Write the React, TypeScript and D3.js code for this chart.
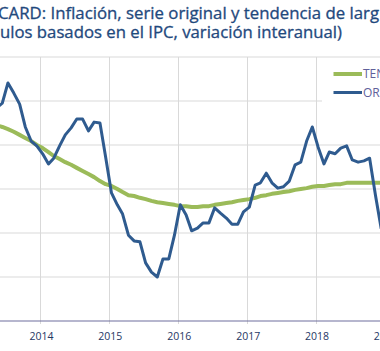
import * as d3 from 'd3'

// monthly, May 2013 .. Dec 2018 (mid-month points)
const firstMonth = new Date(2013, 4, 15)

const original = [
  4.84, 4.95, 5.41, 5.18, 4.93, 4.41, 4.09, 3.98,
  3.80, 3.57, 3.70, 3.98, 4.23, 4.39, 4.59, 4.59, 4.32, 4.52, 4.50, 3.73,
  2.91, 2.64, 2.43, 1.95, 1.82, 1.80, 1.32, 1.11, 1.00, 1.41, 1.41, 1.95,
  2.64, 2.41, 2.05, 2.11, 2.23, 2.23, 2.57, 2.45, 2.34, 2.20, 2.20, 2.48,
  2.59, 3.09, 3.14, 3.36, 3.14, 3.02, 3.05, 3.18, 3.55, 3.61, 4.09, 4.41,
  3.95, 3.57, 3.84, 3.80, 3.93, 3.98, 3.66, 3.61, 3.64, 3.70, 2.86, 2.11,
]

const tendencia = [
  4.45, 4.41, 4.36, 4.30, 4.23, 4.16, 4.09, 4.00,
  3.93, 3.84, 3.75, 3.68, 3.61, 3.55, 3.48, 3.41, 3.34, 3.27, 3.18, 3.11,
  3.07, 3.00, 2.93, 2.86, 2.84, 2.80, 2.77, 2.73, 2.70, 2.68, 2.66, 2.64,
  2.61, 2.61, 2.59, 2.59, 2.61, 2.61, 2.64, 2.66, 2.68, 2.70, 2.73, 2.75,
  2.77, 2.80, 2.84, 2.86, 2.89, 2.91, 2.93, 2.95, 2.98, 3.00, 3.02, 3.05,
  3.07, 3.07, 3.09, 3.11, 3.11, 3.14, 3.14, 3.14, 3.14, 3.14, 3.14, 3.14,
]

const years = [2014, 2015, 2016, 2017, 2018, 2019]
const yTicks = [0, 1, 2, 3, 4, 5, 6]

const titleLines = [
  'CARD: Inflación, serie original y tendencia de larg',
  'ulos basados en el IPC, variación interanual)',
]
const legendItems = [
  { name: 'TENDENCIA', color: '#9bbb59', width: 4 },
  { name: 'ORIGINAL', color: '#2f5b8f', width: 3 },
]

const W = 380
const H = 351

export default function App() {
  const dates = original.map((_, i) => d3.timeMonth.offset(firstMonth, i))

  const x = d3.scaleTime()
    .domain([new Date(2014, 0, 1), new Date(2018, 0, 1)])
    .range([40, 315.5])
  const y = d3.scaleLinear().domain([0, 6]).range([321, 57])

  const line = d3.line<number>()
    .x((_, i) => x(dates[i]))
    .y(d => y(d))

  const font = '"Open Sans", "DejaVu Sans", sans-serif'

  return (
    <svg width={W} height={H} style={{ position: 'absolute', left: 0, top: 0, background: '#fff' }}
      fontFamily={font}>
      <rect width={W} height={H} fill="#fff" />
      {titleLines.map((t, i) => (
        <text key={i} x={i === 0 ? -2 : 0} y={i === 0 ? 19 : 37.5} fontSize={15.5} fill="#1f497d"
          stroke="#1f497d" strokeWidth={0.3}
          textLength={i === 0 ? 381 : 342} lengthAdjust="spacingAndGlyphs">{t}</text>
      ))}

      {/* gridlines */}
      {yTicks.filter(v => v > 0).map(v => (
        <line key={v} x1={0} x2={W} y1={y(v)} y2={y(v)} stroke="#d9d9d9" strokeWidth={1} />
      ))}
      {years.map(yr => {
        const xx = Math.round(x(new Date(yr, 0, 1))) + 0.5
        return <line key={yr} x1={xx} x2={xx} y1={y(6)} y2={y(0) + 3} stroke="#d9d9d9" strokeWidth={1} />
      })}
      <line x1={0} x2={W} y1={y(0)} y2={y(0)} stroke="#6e6e9e" strokeWidth={1.2} />

      {years.map(yr => (
        <text key={yr} x={x(new Date(yr, 0, 1)) + 1.5} y={340} fontSize={10.5} fill="#1f3864"
          textAnchor="middle">{yr}</text>
      ))}

      <path d={line(tendencia) ?? ''} fill="none" stroke="#9bbb59" strokeWidth={4}
        strokeLinejoin="round" strokeLinecap="round" />
      <path d={line(original) ?? ''} fill="none" stroke="#2f5b8f" strokeWidth={3}
        strokeLinejoin="round" strokeLinecap="round" />

      {/* legend */}
      <rect x={322} y={60} width={60} height={44} fill="#fff" />
      {legendItems.map((it, i) => (
        <g key={it.name} transform={`translate(0,${74 + i * 18.5})`}>
          <line x1={333.5} x2={362} y1={0} y2={0} stroke={it.color} strokeWidth={it.width} />
          <text x={363} y={4.3} fontSize={12} fill="#60609a">{it.name}</text>
        </g>
      ))}
    </svg>
  )
}
